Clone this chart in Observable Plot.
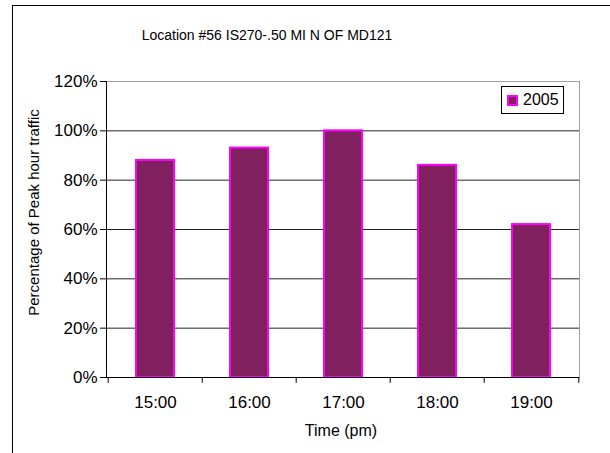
<!DOCTYPE html>
<html>
<head>
<meta charset="utf-8">
<script src="https://cdn.jsdelivr.net/npm/d3@7"></script>
<script src="https://cdn.jsdelivr.net/npm/@observablehq/plot@0.6"></script>
<style>
  html, body { margin: 0; padding: 0; background: #fff; }
  #wrap { position: relative; width: 610px; height: 453px; overflow: hidden;
          font-family: "Liberation Sans", Arial, sans-serif; }
  #frame { position: absolute; left: 12px; top: 5px; width: 700px; height: 600px;
           border-left: 1px solid #000; border-top: 1px solid #000; }
  #chart { position: absolute; left: 0; top: 0; }
  #legend { position: absolute; left: 501px; top: 86px; width: 63px; height: 28px;
            border: 1px solid #000; background: #fff; box-sizing: border-box;
            font-size: 16px; display: flex; align-items: center; padding-left: 5px; }
  #legend .sw { width: 7px; height: 7px; background: #80205f; border: 2px solid #ff00ff;
                margin-right: 5px; }
</style>
</head>
<body>
<div id="wrap">
  <div id="frame"></div>
  <div id="chart"></div>
  <div id="legend"><span class="sw"></span><span id="legend-label"></span></div>
</div>
<script>
// Hourly share of peak-hour traffic
const times = ["15:00", "16:00", "17:00", "18:00", "19:00"];
const share2005 = [0.88, 0.93, 1.00, 0.86, 0.62];
const yTicks = [0, 0.2, 0.4, 0.6, 0.8, 1.0, 1.2];
const seriesName = "2005";
const title = "Location #56 IS270-.50 MI N OF MD121";
const yTitle = "Percentage of Peak hour traffic";
const xTitle = "Time (pm)";

const data = times.map((t, i) => ({time: t, value: share2005[i]}));

const W = 610, H = 453, mL = 106, mR = 31, mT = 81, mB = 76;
const step = (W - mL - mR) / times.length; // category band width

const chart = Plot.plot({
  width: W, height: H,
  marginLeft: mL, marginRight: mR, marginTop: mT, marginBottom: mB,
  style: {fontFamily: "'Liberation Sans', Arial, sans-serif", fontSize: "17px",
          background: "transparent", color: "#000", overflow: "visible"},
  x: {domain: times, paddingInner: 0.6, paddingOuter: 0.3, axis: null},
  y: {domain: [0, 1.2], axis: null},
  marks: [
    Plot.frame({stroke: "#a0a0a0"}),
    Plot.ruleY(yTicks.slice(1, -1), {stroke: "#222"}),
    Plot.barY(data, {x: "time", y: "value", fill: "#80205f", stroke: "#ff00ff", strokeWidth: 2}),
    Plot.axisY({ticks: yTicks, tickFormat: d3.format(".0%"), tickSize: 6, tickPadding: 3,
                label: null, fontSize: 17}),
    Plot.axisX({tickSize: 0, tickPadding: 18, label: null, fontSize: 17}),
    // category boundary ticks below the axis
    Plot.ruleX(times, {x: d => d, y1: 0, y2: -0.024, dx: -step / 2, stroke: "#000"}),
    Plot.ruleX(times.slice(-1), {x: d => d, y1: 0, y2: -0.024, dx: step / 2, stroke: "#000"}),
    Plot.ruleY([0], {stroke: "#000"}),
    Plot.frame({anchor: "left", stroke: "#000"}),
    Plot.text([yTitle], {frameAnchor: "left", textAnchor: "middle", dx: -72, dy: -17,
                         rotate: -90, fontSize: 15}),
    Plot.text([xTitle], {frameAnchor: "bottom", dx: -2, dy: 58, fontSize: 16}),
    Plot.text([title], {frameAnchor: "top", dx: -76, dy: -51, fontSize: 14})
  ]
});
document.getElementById("chart").appendChild(chart);
document.getElementById("legend-label").textContent = seriesName;
</script>
</body>
</html>
